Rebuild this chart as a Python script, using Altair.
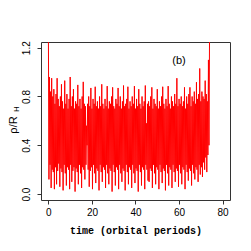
import altair as alt
import pandas as pd

# peaks at t = 0, 0.5, ..., 74 (orbital periods)
peaks = [
    1.30, 0.96, 0.84, 0.95, 0.80, 0.86, 0.74, 0.82, 0.95, 0.78,
    0.72, 0.80, 0.90, 0.76, 0.70, 0.93, 0.74, 0.82, 0.70, 0.78,
    0.96, 0.72, 0.80, 0.86, 0.70, 0.76, 0.74, 0.895, 0.72, 0.78,
    0.70, 0.80, 0.92, 0.74, 0.72, 0.56, 0.74, 0.80, 0.72, 0.87,
    0.70, 0.78, 0.74, 0.88, 0.72, 0.76, 0.70, 0.80, 0.72, 0.90,
    0.74, 0.70, 0.78, 0.72, 0.885, 0.70, 0.76, 0.74, 0.80, 0.875,
    0.72, 0.70, 0.78, 0.74, 0.87, 0.72, 0.80, 0.70, 0.76, 0.89,
    0.72, 0.74, 0.78, 0.88, 0.70, 0.76, 0.72, 0.80, 0.74, 0.885,
    0.70, 0.78, 0.72, 0.86, 0.74, 0.70, 0.80, 0.72, 0.76, 0.89,
    0.58, 0.74, 0.76, 0.72, 0.80, 0.875, 0.70, 0.78, 0.74, 0.72,
    0.86, 0.70, 0.76, 0.72, 0.80, 0.88, 0.74, 0.70, 0.78, 0.72,
    0.885, 0.74, 0.70, 0.80, 0.76, 0.72, 0.82, 0.74, 0.95, 0.72,
    0.78, 0.74, 0.80, 0.72, 0.76, 0.875, 0.70, 0.80, 0.74, 0.82,
    0.875, 0.72, 0.80, 0.76, 0.84, 0.74, 0.917, 0.78, 0.82, 1.03,
    0.76, 0.84, 0.80, 0.78, 0.93, 0.82, 0.76, 1.10, 1.30,
]

# troughs at t = 0.25, 0.75, ..., 73.75
troughs = [
    0.12, 0.24, 0.05, 0.20, 0.18, 0.04, 0.22, 0.08, 0.19, 0.25,
    0.06, 0.21, 0.18, 0.03, 0.24, 0.17, 0.07, 0.22, 0.20, 0.04,
    0.24, 0.10, 0.19, 0.22, 0.02, 0.21, 0.18, 0.08, 0.24, 0.17,
    0.05, 0.22, 0.20, 0.12, 0.24, 0.40, 0.20, 0.06, 0.19, 0.22,
    0.04, 0.24, 0.17, 0.09, 0.21, 0.19, 0.03, 0.24, 0.18, 0.10,
    0.22, 0.20, 0.05, 0.24, 0.17, 0.08, 0.21, 0.19, 0.02, 0.24,
    0.18, 0.07, 0.22, 0.20, 0.04, 0.24, 0.17, 0.10, 0.21, 0.19,
    0.03, 0.24, 0.18, 0.08, 0.22, 0.20, 0.05, 0.24, 0.17, 0.09,
    0.21, 0.19, 0.02, 0.24, 0.18, 0.07, 0.22, 0.20, 0.04, 0.24,
    0.20, 0.11, 0.10, 0.21, 0.19, 0.05, 0.24, 0.17, 0.08, 0.22,
    0.20, 0.04, 0.24, 0.18, 0.09, 0.21, 0.19, 0.03, 0.24, 0.17,
    0.07, 0.22, 0.20, 0.05, 0.24, 0.18, 0.10, 0.21, 0.19, 0.06,
    0.24, 0.17, 0.08, 0.22, 0.20, 0.04, 0.24, 0.18, 0.11, 0.21,
    0.19, 0.07, 0.24, 0.17, 0.12, 0.22, 0.20, 0.10, 0.24, 0.16,
    0.22, 0.14, 0.26, 0.20, 0.30, 0.18, 0.32, 0.40,
]

x_ticks = [0, 20, 40, 60, 80]
y_ticks = [0.0, 0.2, 0.4, 0.6, 0.8, 1.0, 1.2]
y_labels = ["0.0", "0.4", "0.8", "1.2"]

rows = []
for i, p in enumerate(peaks):
    rows.append({"t": i * 0.5, "rho": p})
    if i < len(troughs):
        rows.append({"t": i * 0.5 + 0.25, "rho": troughs[i]})
df = pd.DataFrame(rows)

xs = alt.Scale(domain=[-3.4, 83.4], nice=False, zero=False)
ys = alt.Scale(domain=[-0.049, 1.247], nice=False, zero=False)

line = alt.Chart(df).mark_line(color="#ff0000", strokeWidth=1, clip=True).encode(
    x=alt.X("t:Q", scale=xs, axis=alt.Axis(
        values=x_ticks, title="time (orbital periods)", grid=False, domain=False,
        tickSize=4, tickColor="#333", labelFont="Liberation Sans", labelFontSize=10,
        labelColor="#000", labelPadding=3,
        titleFont="Liberation Mono", titleFontSize=10, titleFontWeight="bold",
        titleColor="#000", titlePadding=8)),
    y=alt.Y("rho:Q", scale=ys, axis=alt.Axis(
        values=y_ticks, title=None, grid=False, domain=False, format=".1f",
        labelExpr="indexof(" + str(y_labels) + ", datum.label) >= 0 ? datum.label : ''",
        tickSize=4, tickColor="#333", labelFont="Liberation Sans", labelFontSize=10,
        labelColor="#000", labelAngle=-90, labelAlign="center", labelBaseline="bottom",
        labelPadding=6)),
)

lab = alt.Chart(pd.DataFrame({"t": [60.0], "rho": [1.094], "s": ["(b)"]})).mark_text(
    font="Liberation Sans", fontSize=11, color="#000").encode(
    x=alt.X("t:Q", scale=xs), y=alt.Y("rho:Q", scale=ys), text="s:N")

ytitle = alt.Chart(pd.DataFrame({"s": ["\u03c1/R"]})).mark_text(
    font="Liberation Sans", fontSize=11, angle=270, color="#000").encode(
    x=alt.value(-27), y=alt.value(83), text="s:N")
ysub = alt.Chart(pd.DataFrame({"s": ["H"]})).mark_text(
    font="Liberation Sans", fontSize=8, angle=270, color="#000").encode(
    x=alt.value(-24), y=alt.value(67), text="s:N")

chart = (line + lab + ytitle + ysub).properties(
    width=189, height=158,
    autosize=alt.AutoSizeParams(type="none"),
    padding={"left": 33, "top": 34, "right": 5, "bottom": 40},
).configure_view(stroke="#333", strokeWidth=1)

chart.save("out.html", embed_options={"renderer": "svg", "actions": False})
